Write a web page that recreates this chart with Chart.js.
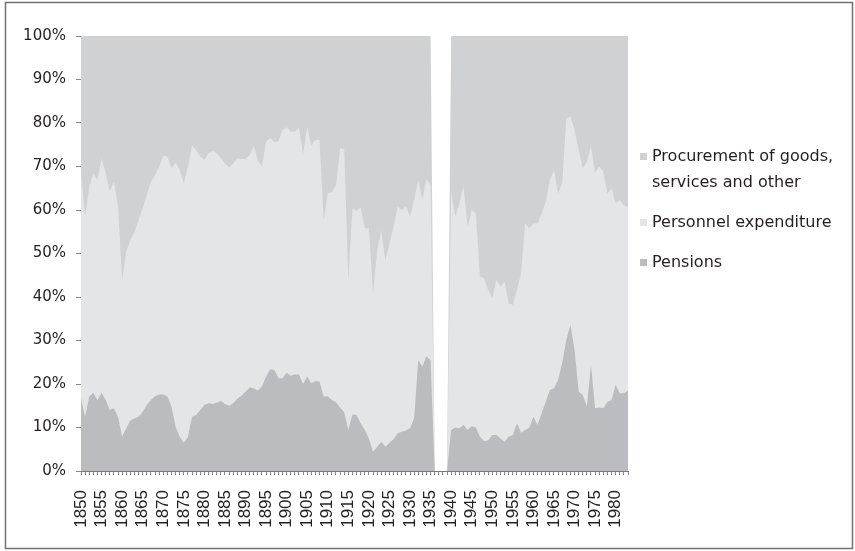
<!DOCTYPE html>
<html><head><meta charset="utf-8">
<script src="https://cdn.jsdelivr.net/npm/chart.js@4/dist/chart.umd.min.js"></script>
<style>html,body{margin:0;padding:0;background:#fff;}</style>
</head><body>
<canvas id="c" width="855" height="551"></canvas>
<script>
const years = [1850,1851,1852,1853,1854,1855,1856,1857,1858,1859,1860,1861,1862,1863,1864,1865,1866,1867,1868,1869,
1870,1871,1872,1873,1874,1875,1876,1877,1878,1879,1880,1881,1882,1883,1884,1885,1886,1887,1888,1889,
1890,1891,1892,1893,1894,1895,1896,1897,1898,1899,1900,1901,1902,1903,1904,1905,1906,1907,1908,1909,
1910,1911,1912,1913,1914,1915,1916,1917,1918,1919,1920,1921,1922,1923,1924,1925,1926,1927,1928,1929,
1930,1931,1932,1933,1934,1935,1936,1937,1938,1939,1940,1941,1942,1943,1944,1945,1946,1947,1948,1949,
1950,1951,1952,1953,1954,1955,1956,1957,1958,1959,1960,1961,1962,1963,1964,1965,1966,1967,1968,1969,
1970,1971,1972,1973,1974,1975,1976,1977,1978,1979,1980,1981,1982,1983];

const pensions = [16.7,12.5,17.1,18.0,16.3,18.0,16.3,14.0,14.4,12.5,7.9,9.8,11.6,12.1,12.5,13.6,15.2,16.3,17.2,17.6,
17.6,17.1,14.8,10.2,7.9,6.5,7.9,12.5,12.9,14.0,15.2,15.6,15.4,15.7,16.1,15.4,15.0,15.6,16.6,17.3,
18.2,19.2,19.0,18.5,19.4,21.8,23.4,23.2,21.3,21.3,22.6,21.9,22.2,22.2,20.0,21.7,20.2,20.7,20.5,17.1,
17.2,16.3,15.8,14.6,13.5,9.4,13.0,12.9,11.0,9.4,7.5,4.4,5.6,6.7,5.6,6.5,7.3,8.7,9.0,9.3,
9.8,12.1,25.5,24.0,26.4,25.4,0,0,0,0,9.4,10.0,9.8,10.6,9.4,10.3,10.0,7.9,6.9,7.0,
8.3,8.3,7.5,6.7,7.9,8.3,11.0,8.8,9.4,10.0,12.5,10.6,13.3,15.9,18.6,19.0,20.9,24.8,30.1,33.6,
27.8,18.2,17.5,14.8,24.4,14.4,14.6,14.4,15.9,16.3,19.8,17.9,17.9,18.5];

const personnel = [51.7,46.0,48.3,50.4,50.6,53.9,52.1,50.2,52.1,48.3,36.0,40.6,41.5,42.9,45.2,46.8,48.2,50.2,50.8,52.4,
54.9,55.2,54.8,60.8,61.3,59.6,62.1,62.3,60.9,58.3,56.3,57.4,58.2,57.3,55.8,55.3,54.8,55.1,55.3,54.4,
53.5,53.4,55.8,52.8,50.6,53.9,53.2,52.4,54.5,57.1,56.4,56.1,55.8,56.7,52.9,57.5,54.6,55.4,55.6,40.6,
46.6,47.7,49.9,59.6,60.4,34.5,47.4,46.9,49.6,46.4,48.3,36.4,44.8,48.7,42.9,45.8,48.9,52.1,51.0,51.5,
48.7,50.2,41.4,38.3,40.7,40.3,0,0,0,0,54.8,48.5,51.7,54.8,46.8,49.7,49.2,36.8,37.4,34.6,
31.4,35.6,34.9,36.8,30.6,29.9,30.6,36.6,47.5,45.8,44.4,46.3,45.9,46.0,48.3,50.2,42.9,41.3,51.0,47.9,
50.6,55.6,52.1,56.3,50.2,54.2,55.4,54.4,47.9,48.7,41.7,44.4,43.2,42.1];

const procurement = [31.6,41.5,34.6,31.6,33.1,28.1,31.6,35.8,33.5,39.2,56.1,49.6,46.9,45.0,42.3,39.6,36.6,33.5,32.0,30.0,
27.5,27.7,30.4,29.0,30.8,33.9,30.0,25.2,26.2,27.7,28.5,27.0,26.4,27.0,28.1,29.3,30.2,29.3,28.1,28.3,
28.3,27.4,25.2,28.7,30.0,24.3,23.4,24.4,24.2,21.6,21.0,22.0,22.0,21.1,27.1,20.8,25.2,23.9,23.9,42.3,
36.2,36.0,34.3,25.8,26.1,56.1,39.6,40.2,39.4,44.2,44.2,59.2,49.6,44.6,51.5,47.7,43.8,39.2,40.0,39.2,
41.5,37.7,33.1,37.7,32.9,34.3,0,0,0,0,35.8,41.5,38.5,34.6,43.8,40.0,40.8,55.3,55.7,58.4,
60.3,56.1,57.6,56.5,61.5,61.8,58.4,54.6,43.1,44.2,43.1,43.1,40.8,38.1,33.1,30.8,36.2,33.9,18.9,18.5,
21.6,26.2,30.4,28.9,25.4,31.4,30.0,31.2,36.2,35.0,38.5,37.7,38.9,39.4];

const seriesNames = ['Pensions','Personnel expenditure','Procurement of goods, services and other'];
const legendLines = [['Procurement of goods,','services and other'],['Personnel expenditure'],['Pensions']];
const yTicks = [0,10,20,30,40,50,60,70,80,90,100];

const COL_PEN = '#bbbcc0', COL_PER = '#e4e5e7', COL_PRO = '#d0d1d3';

const framePlugin = {
  id: 'frame',
  afterDraw(chart) {
    const ctx = chart.ctx;
    ctx.save();
    ctx.strokeStyle = '#707070';
    ctx.lineWidth = 1.5;
    ctx.strokeRect(5.5, 2.5, 847, 546);
    const cols = [COL_PRO, COL_PER, COL_PEN];
    ctx.font = '16px "DejaVu Sans"';
    ctx.textBaseline = 'middle';
    ctx.textAlign = 'left';
    let y = 157;
    legendLines.forEach((lines, i) => {
      ctx.fillStyle = cols[i];
      ctx.fillRect(640, y - 4, 7, 7);
      ctx.fillStyle = '#231f20';
      lines.forEach((t, k) => ctx.fillText(t, 652, y + k * 26));
      y += (lines.length - 1) * 26 + 40;
    });
    ctx.restore();
  }
};

new Chart(document.getElementById('c'), {
  type: 'line',
  data: {
    labels: years.map(String),
    datasets: [
      {label: seriesNames[0], data: pensions, backgroundColor: COL_PEN, borderColor: 'rgba(0,0,0,0)', borderWidth: 0, fill: 'origin', pointRadius: 0, tension: 0},
      {label: seriesNames[1], data: personnel, backgroundColor: COL_PER, borderColor: 'rgba(0,0,0,0)', borderWidth: 0, fill: 'origin', pointRadius: 0, tension: 0},
      {label: seriesNames[2], data: procurement, backgroundColor: COL_PRO, borderColor: 'rgba(0,0,0,0)', borderWidth: 0, fill: 'origin', pointRadius: 0, tension: 0}
    ]
  },
  options: {
    responsive: false,
    animation: false,
    layout: {padding: {left: 6, top: 36, right: 227, bottom: 0}},
    plugins: {legend: {display: false}, tooltip: {enabled: false}},
    scales: {
      x: {
        type: 'category',
        offset: false,
        grid: {display: true, drawOnChartArea: false, drawTicks: true, tickLength: 4, color: '#8a8a8a'},
        border: {display: true, color: '#7a7a7a', width: 1},
        ticks: {
          autoSkip: false, maxRotation: 90, minRotation: 90, padding: 15,
          font: {family: '"Liberation Sans", Arial, sans-serif', size: 17}, color: '#222',
          callback: (v, i) => (years[i] % 5 === 0 ? String(years[i]) : '')
        },
        afterFit: s => { s.height = 80; }
      },
      y: {
        stacked: true,
        min: 0, max: 100,
        afterBuildTicks: s => { s.ticks = yTicks.map(v => ({value: v})); },
        grid: {display: true, drawOnChartArea: false, drawTicks: true, tickLength: 5, color: '#8a8a8a'},
        border: {display: true, color: '#7a7a7a', width: 1},
        ticks: {
          padding: 10,
          font: {family: '"DejaVu Sans", sans-serif', size: 15}, color: '#231f20',
          callback: v => v + '%'
        },
        afterFit: s => { s.width = 75; }
      }
    }
  },
  plugins: [framePlugin]
});
</script>
</body></html>
